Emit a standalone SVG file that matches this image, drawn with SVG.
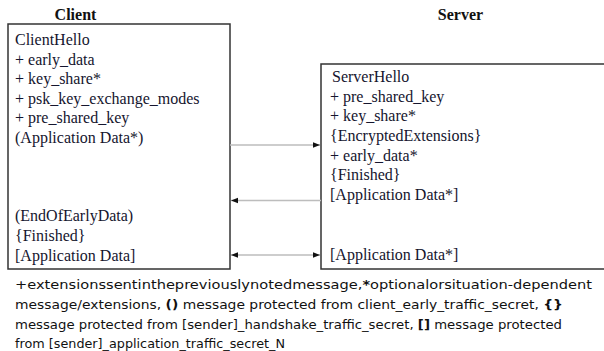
<svg xmlns="http://www.w3.org/2000/svg" width="604" height="351" viewBox="0 0 604 351">
<style>
.box{fill:#fff;stroke:#333;stroke-width:1.5}
.t{font-family:"Liberation Serif","Times New Roman",serif;font-size:16px;fill:#15152e}
.title{font-family:"Liberation Serif","Times New Roman",serif;font-size:16px;font-weight:bold;fill:#111;text-anchor:middle}
.conn{stroke:#bdbdbd;stroke-width:1.5;fill:none}
.foot{font-family:"DejaVu Sans","Verdana",sans-serif;font-size:12.5px;fill:#111}
.b{font-weight:bold}
</style>
<defs>
<marker id="ah" viewBox="0 0 10 10" refX="10" refY="5" markerWidth="7" markerHeight="7" markerUnits="userSpaceOnUse" orient="auto-start-reverse">
<path d="M0,1 L10,5 L0,9 z" fill="#111"/>
</marker>
</defs>
<rect width="604" height="351" fill="#fff"/>
<g id="client">
<text class="title" x="75.5" y="20">Client</text>
<rect class="box" x="8" y="24" width="222" height="245"/>
<text class="t" x="15" y="45">ClientHello</text>
<text class="t" x="15" y="64.5">+ early_data</text>
<text class="t" x="15" y="84">+ key_share*</text>
<text class="t" x="15" y="103.5">+ psk_key_exchange_modes</text>
<text class="t" x="15" y="123">+ pre_shared_key</text>
<text class="t" x="15" y="142.5">(Application Data*)</text>
<text class="t" x="15" y="221">(EndOfEarlyData)</text>
<text class="t" x="15" y="241">{Finished}</text>
<text class="t" x="15" y="261">[Application Data]</text>
</g>
<g id="server">
<text class="title" x="460.5" y="20">Server</text>
<rect class="box" x="321" y="64" width="300" height="205"/>
<text class="t" x="332" y="82">ServerHello</text>
<text class="t" x="330" y="102">+ pre_shared_key</text>
<text class="t" x="330" y="121">+ key_share*</text>
<text class="t" x="330" y="141">{EncryptedExtensions}</text>
<text class="t" x="330" y="160.5">+ early_data*</text>
<text class="t" x="330" y="180">{Finished}</text>
<text class="t" x="330" y="200">[Application Data*]</text>
<text class="t" x="330" y="260">[Application Data*]</text>
</g>
<g id="connectors">
<line class="conn" x1="230" y1="145" x2="320" y2="145" marker-end="url(#ah)"/>
<line class="conn" x1="321" y1="200.5" x2="231" y2="200.5" marker-end="url(#ah)"/>
<line class="conn" x1="231" y1="255" x2="320" y2="255" marker-start="url(#ah)" marker-end="url(#ah)"/>
</g>
<g id="legend">
<text class="foot" x="15" y="288.5" textLength="577" lengthAdjust="spacingAndGlyphs">+extensionssentinthepreviouslynotedmessage,<tspan class="b">*</tspan>optionalorsituation-dependent</text>
<text class="foot" x="15" y="308.5" textLength="548" lengthAdjust="spacingAndGlyphs">message/extensions, <tspan class="b">()</tspan> message protected from client_early_traffic_secret, <tspan class="b">{}</tspan></text>
<text class="foot" x="15" y="328.5" textLength="547" lengthAdjust="spacingAndGlyphs">message protected from [sender]_handshake_traffic_secret, <tspan class="b">[]</tspan> message protected</text>
<text class="foot" x="15" y="347.5" textLength="270" lengthAdjust="spacingAndGlyphs">from [sender]_application_traffic_secret_N</text>
</g>
</svg>
